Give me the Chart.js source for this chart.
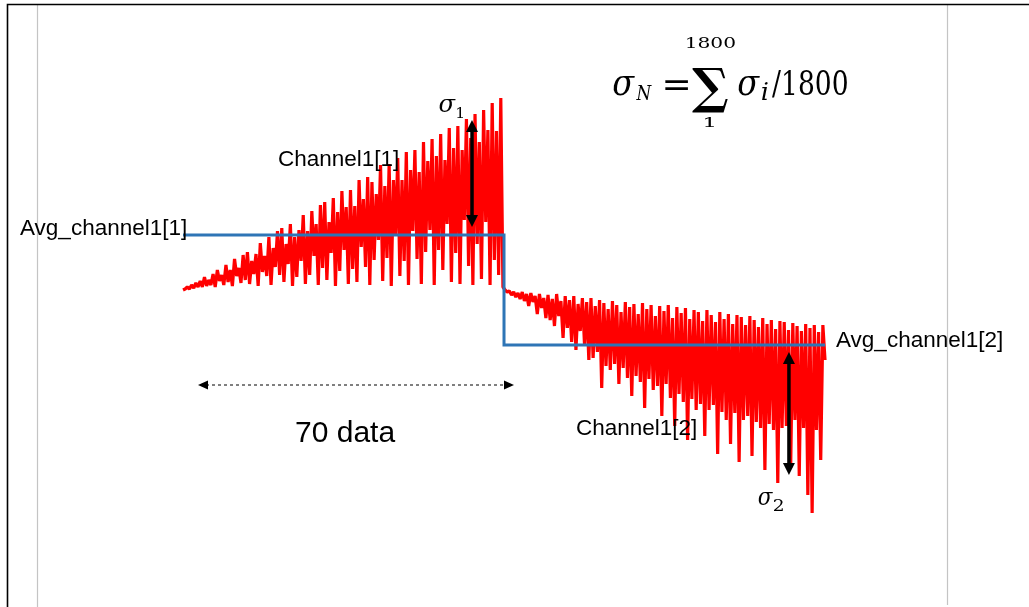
<!DOCTYPE html>
<html lang="en">
<head>
  <meta charset="UTF-8">
  <title>Channel1 averages and sigma</title>
  <script src="https://cdn.jsdelivr.net/npm/chart.js"></script>
  <style>
    * { box-sizing: border-box; margin: 0; padding: 0; }
    body { background: #fff; overflow: hidden; }
    #wrap { position: relative; width: 1029px; height: 607px; }
  </style>
</head>
<body>

<div id="wrap">
  <canvas id="sigmaChart" width="1029" height="607"></canvas>
</div>

<script>
  // samples of Channel1[1] (first 150) and Channel1[2] (next 150)
  const channel1 = [
    0, 0.1, 0.3, 0.1, 0.5, 0.2, 0.7, 0.3, 0.9, 0.3,
    1.3, 0.4, 1.0, 0.5, 1.6, 0.3, 2.0, 0.9, 1.5, 0.5,
    2.5, 0.8, 2.0, 0.4, 3.1, 1.4, 2.2, 0.7, 3.5, 1.0,
    3.8, 0.6, 2.9, 1.6, 3.6, 0.4, 4.7, 1.8, 3.4, 1.4,
    5.3, 0.5, 4.2, 2.3, 5.9, 1.5, 6.2, 0.8, 4.6, 2.6,
    6.6, 0.4, 5.3, 1.3, 6.0, 2.9, 7.5, 0.6, 5.9, 1.5,
    7.9, 3.4, 6.6, 0.5, 8.5, 2.2, 8.8, 1.0, 6.8, 3.7,
    9.2, 0.4, 7.8, 1.9, 9.9, 4.0, 8.3, 0.6, 10.0, 2.1,
    8.4, 0.8, 11.0, 4.3, 9.1, 2.3, 11.3, 0.5, 10.8, 3.0,
    9.6, 5.0, 12.5, 0.9, 10.4, 3.2, 12.6, 0.4, 11.0, 5.5,
    13.2, 1.4, 11.0, 2.9, 13.8, 0.5, 12.0, 5.9, 14.0, 3.1,
    11.8, 0.6, 14.8, 3.8, 12.9, 6.0, 15.1, 0.5, 13.4, 4.0,
    15.6, 2.0, 13.0, 6.6, 16.2, 0.8, 14.2, 3.7, 16.4, 0.6,
    14.0, 7.0, 17.1, 2.4, 15.2, 0.5, 17.6, 4.6, 14.8, 1.1,
    18.0, 6.8, 16.0, 0.5, 18.7, 3.0, 15.9, 1.5, 19.2, 0.3
  ];
  const channel2 = [
    0, -0.2, -0.1, -0.5, -0.2, -0.7, -0.3, -0.9, -0.2, -1.1,
    -0.4, -1.6, -0.3, -1.2, -0.6, -2.4, -0.4, -1.8, -0.8, -2.8,
    -0.5, -3.0, -0.9, -3.6, -0.4, -2.6, -1.1, -4.8, -0.6, -3.8,
    -1.0, -5.2, -0.6, -6.0, -1.4, -4.1, -0.8, -5.5, -1.2, -7.0,
    -0.8, -6.8, -1.6, -6.2, -1.0, -9.8, -1.3, -7.6, -1.9, -8.0,
    -1.1, -7.4, -1.5, -9.4, -2.2, -7.8, -1.2, -8.8, -1.7, -10.6,
    -1.4, -8.6, -2.4, -9.2, -1.3, -11.8, -1.9, -8.9, -1.5, -10.0,
    -2.6, -9.6, -1.6, -12.6, -2.1, -9.4, -1.5, -10.8, -2.8, -13.6,
    -1.7, -10.4, -2.3, -11.2, -1.8, -15.0, -2.9, -10.9, -2.0, -12.0,
    -2.2, -11.4, -3.1, -14.6, -2.0, -12.0, -2.5, -11.5, -3.2, -16.4,
    -2.2, -12.2, -2.9, -13.0, -2.4, -15.4, -3.4, -12.3, -2.5, -17.2,
    -2.7, -13.0, -3.5, -12.6, -2.6, -16.6, -3.0, -13.2, -3.7, -13.8,
    -2.8, -18.0, -3.4, -13.4, -3.0, -14.0, -3.9, -19.3, -3.1, -13.8,
    -3.2, -13.6, -4.0, -17.8, -3.3, -13.0, -3.6, -18.6, -4.1, -13.8,
    -3.4, -20.5, -3.8, -22.3, -3.5, -14.0, -4.2, -17.0, -3.5, -7.0
  ];
  const avgLevels = [5.5, -5.5];      // Avg_channel1[1], Avg_channel1[2]
  const avgSplit = 150.5;             // where channel 1 hands over to channel 2
  const labels = ['Avg_channel1[1]', 'Channel1[1]', 'Avg_channel1[2]', 'Channel1[2]', '70 data'];

  const signal = channel1.concat(channel2).map((v, i) => ({ x: i + 1, y: v }));
  const n = signal.length;
  const avgLine = [
    { x: 1, y: avgLevels[0] },
    { x: avgSplit, y: avgLevels[0] },
    { x: avgSplit, y: avgLevels[1] },
    { x: n, y: avgLevels[1] }
  ];

  // squeeze/stretch a string so its ink fills a given box
  function fitText(ctx, str, font, left, top, right, bottom) {
    ctx.save();
    ctx.font = font;
    ctx.textAlign = 'left';
    ctx.textBaseline = 'alphabetic';
    const m = ctx.measureText(str);
    const w = m.actualBoundingBoxLeft + m.actualBoundingBoxRight;
    const h = m.actualBoundingBoxAscent + m.actualBoundingBoxDescent;
    const sx = (right - left) / w, sy = (bottom - top) / h;
    ctx.translate(left + m.actualBoundingBoxLeft * sx, top + m.actualBoundingBoxAscent * sy);
    ctx.scale(sx, sy);
    ctx.fillText(str, 0, 0);
    ctx.restore();
  }

  function arrowHead(ctx, x, y, ang, len, half) {
    ctx.beginPath();
    ctx.moveTo(x, y);
    ctx.lineTo(x - len * Math.cos(ang) + half * Math.sin(ang), y - len * Math.sin(ang) - half * Math.cos(ang));
    ctx.lineTo(x - len * Math.cos(ang) - half * Math.sin(ang), y - len * Math.sin(ang) + half * Math.cos(ang));
    ctx.closePath();
    ctx.fill();
  }

  function doubleArrow(ctx, x1, y1, x2, y2, lw, len, half, dash) {
    const ang = Math.atan2(y2 - y1, x2 - x1);
    ctx.save();
    ctx.strokeStyle = '#000';
    ctx.fillStyle = '#000';
    ctx.lineWidth = lw;
    ctx.setLineDash(dash || []);
    ctx.beginPath();
    ctx.moveTo(x1 + len * 0.8 * Math.cos(ang), y1 + len * 0.8 * Math.sin(ang));
    ctx.lineTo(x2 - len * 0.8 * Math.cos(ang), y2 - len * 0.8 * Math.sin(ang));
    ctx.stroke();
    ctx.setLineDash([]);
    arrowHead(ctx, x2, y2, ang, len, half);
    arrowHead(ctx, x1, y1, ang + Math.PI, len, half);
    ctx.restore();
  }

  const slideFrame = {
    id: 'slideFrame',
    beforeDraw(chart) {
      const ctx = chart.ctx;
      ctx.save();
      ctx.fillStyle = '#fff';
      ctx.fillRect(0, 0, chart.width, chart.height);
      ctx.strokeStyle = '#c4c4c4';
      ctx.lineWidth = 1.2;
      ctx.beginPath();
      ctx.moveTo(37.5, 5); ctx.lineTo(37.5, 607);
      ctx.moveTo(947.5, 5); ctx.lineTo(947.5, 605);
      ctx.stroke();
      ctx.strokeStyle = '#000';
      ctx.lineWidth = 1.6;
      ctx.beginPath();
      ctx.moveTo(7.5, 607); ctx.lineTo(7.5, 4.5); ctx.lineTo(1029, 4.5);
      ctx.stroke();
      ctx.restore();
    },
    afterDraw(chart) {
      const ctx = chart.ctx;
      const xs = chart.scales.x, ys = chart.scales.y;
      ctx.save();
      ctx.fillStyle = '#000';
      ctx.textAlign = 'left';
      ctx.textBaseline = 'alphabetic';
      ctx.font = '22.5px "Liberation Sans", Arial, sans-serif';
      ctx.fillText(labels[0], 20, 235);
      ctx.fillText(labels[1], 278, 166);
      ctx.fillText(labels[2], 836, 347);
      ctx.fillText(labels[3], 576, 435);
      ctx.font = '30px "Liberation Sans", Arial, sans-serif';
      ctx.fillText(labels[4], 295, 442);

      // sigma arrows between the average and the spread of each channel
      const a1 = xs.getPixelForValue(135.6);
      doubleArrow(ctx, a1, ys.getPixelForValue(17.0), a1, ys.getPixelForValue(avgLevels[0]) - 8, 3.5, 12, 6);
      const a2 = xs.getPixelForValue(283.2);
      doubleArrow(ctx, a2, ys.getPixelForValue(avgLevels[1]) + 7, a2, ys.getPixelForValue(-18.5), 3.5, 12, 6);

      // span of the 70 samples
      doubleArrow(ctx, 198, 385, 514, 385, 1, 10, 4.5, [3, 3]);

      const serif = '"DejaVu Serif", "Liberation Serif", serif';
      fitText(ctx, 'σ', 'italic 60px ' + serif, 439, 99, 456, 112);
      fitText(ctx, '1', '60px ' + serif, 457, 107, 463, 118);
      fitText(ctx, 'σ', 'italic 60px ' + serif, 758, 492, 773, 505);
      fitText(ctx, '2', '60px ' + serif, 774, 498, 783, 511);

      // sigma_N = sum_1^1800 sigma_i / 1800
      fitText(ctx, 'σ', 'italic 80px ' + serif, 613, 76, 635, 95);
      fitText(ctx, 'N', 'italic 60px ' + serif, 636, 85, 652, 100);
      fitText(ctx, '=', '80px ' + serif, 665, 80, 688, 90);
      fitText(ctx, '∑', 'bold 100px ' + serif, 692, 68, 728, 113);
      fitText(ctx, '1800', '60px ' + serif, 687, 37, 735, 48);
      fitText(ctx, '1', '60px ' + serif, 705, 117, 714, 127);
      fitText(ctx, 'σ', 'italic 80px ' + serif, 738, 76, 760, 95);
      fitText(ctx, 'i', 'italic 60px ' + serif, 762, 82, 768, 100);
      fitText(ctx, '/1800', '80px ' + serif, 772, 70, 847, 98);
      ctx.restore();
    }
  };

  new Chart(document.getElementById('sigmaChart'), {
    type: 'line',
    data: {
      datasets: [
        {
          label: 'Average',
          data: avgLine,
          borderColor: '#2e75b6',
          borderWidth: 3,
          pointRadius: 0,
          tension: 0,
          order: 0
        },
        {
          label: 'Channel1',
          data: signal,
          borderColor: '#ff0000',
          borderWidth: 3.2,
          borderJoinStyle: 'bevel',
          pointRadius: 0,
          tension: 0,
          order: 1
        }
      ]
    },
    options: {
      responsive: false,
      animation: false,
      layout: { padding: 0 },
      scales: {
        x: { type: 'linear', min: -84.23, max: 395.0, display: false },
        y: { type: 'linear', min: -31.7, max: 29, display: false }
      },
      plugins: { legend: { display: false }, tooltip: { enabled: false } }
    },
    plugins: [slideFrame]
  });
</script>

</body>
</html>
